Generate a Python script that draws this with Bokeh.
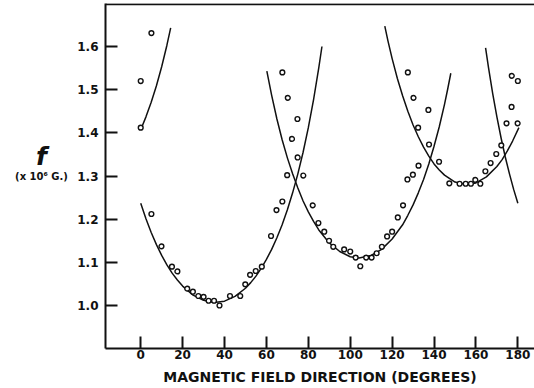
from bokeh.plotting import figure
from bokeh.layouts import row
from bokeh.models import Range1d, FixedTicker, Span, NumeralTickFormatter
from bokeh.core.properties import value
from bokeh.embed import file_html
from bokeh.resources import INLINE

# ---- data ----
obs_deg = [0.0, 0.0, 5.1, 67.6, 70.2, 74.8, 72.2, 74.9, 69.9,
           5.1, 9.9, 14.9, 17.5, 22.2, 24.9, 27.5, 30.0, 32.4, 35.0, 37.6,
           42.6, 47.5, 49.9, 52.2, 54.9, 57.8, 62.2, 64.8, 67.6,
           77.6, 82.1, 84.8, 87.6, 89.9, 91.9, 97.1, 100.0, 102.6, 104.8,
           107.6, 110.2, 112.6, 115.1, 117.6, 120.0, 122.7, 125.2,
           127.3, 129.9, 132.6, 127.5, 130.2, 132.4, 137.3, 137.6, 142.4,
           147.3, 152.2, 155.1, 157.6, 159.7, 162.1, 164.5, 167.0, 169.7,
           172.1, 174.6, 177.0, 177.1, 180.0, 179.9]
obs_f = [1.520, 1.412, 1.631, 1.540, 1.481, 1.432, 1.386, 1.343, 1.302,
         1.212, 1.137, 1.090, 1.079, 1.039, 1.032, 1.022, 1.020, 1.011, 1.011, 1.000,
         1.022, 1.022, 1.049, 1.071, 1.080, 1.090, 1.161, 1.221, 1.241,
         1.301, 1.232, 1.191, 1.171, 1.150, 1.136, 1.130, 1.125, 1.111, 1.091,
         1.111, 1.111, 1.121, 1.136, 1.160, 1.171, 1.204, 1.232,
         1.292, 1.303, 1.324, 1.540, 1.481, 1.412, 1.453, 1.373, 1.333,
         1.283, 1.282, 1.282, 1.282, 1.291, 1.282, 1.311, 1.330, 1.351,
         1.371, 1.422, 1.460, 1.532, 1.520, 1.422]

# fitted curves
curve1_deg = [0, 2.5, 5, 7.5, 10, 12.5, 14.3]
curve1_f = [1.407, 1.437, 1.471, 1.509, 1.553, 1.603, 1.643]

curve2_deg = [0, 2.5, 5, 7.5, 10, 12.5, 15, 17.5, 20, 25, 30, 35, 40, 45, 50, 52.5,
              55, 57.5, 60, 62.5, 65, 67.5, 70, 72.5, 75, 77.5, 80, 82.5, 85, 86.5]
curve2_f = [1.237, 1.201, 1.169, 1.141, 1.116, 1.094, 1.075, 1.059, 1.045, 1.024,
            1.012, 1.007, 1.010, 1.021, 1.040, 1.053, 1.068, 1.086, 1.107, 1.130,
            1.157, 1.187, 1.222, 1.261, 1.305, 1.355, 1.412, 1.477, 1.551, 1.600]

curve3_deg = [60.2, 62.5, 65, 67.5, 70, 72.5, 75, 77.5, 80, 82.5, 85, 90, 95, 100, 104.2,
              110, 115, 120, 125, 127.5, 130, 132.5, 135, 137.5, 140, 142.5, 145, 146.5, 148]
curve3_f = [1.543, 1.487, 1.432, 1.384, 1.342, 1.305, 1.272, 1.242, 1.217, 1.195,
            1.175, 1.145, 1.125, 1.113, 1.110, 1.116, 1.130, 1.154, 1.187, 1.209,
            1.233, 1.261, 1.292, 1.328, 1.369, 1.414, 1.466, 1.501, 1.538]

curve4_deg = [116.5, 118, 120, 122.5, 125, 127.5, 130, 132.5, 135, 137.5, 140, 142.5,
              145, 150, 155.5, 160, 165, 170, 172.5, 175, 177.5, 180.5]
curve4_f = [1.647, 1.613, 1.572, 1.526, 1.486, 1.450, 1.418, 1.391, 1.367, 1.346,
            1.328, 1.314, 1.302, 1.286, 1.280, 1.284, 1.298, 1.322, 1.338, 1.358,
            1.381, 1.412]

curve5_deg = [164.6, 166, 168, 170, 172, 174, 176, 178, 180]
curve5_f = [1.597, 1.551, 1.491, 1.437, 1.388, 1.344, 1.305, 1.269, 1.237]

x_ticks = [0, 20, 40, 60, 80, 100, 120, 140, 160, 180]
y_ticks = [1.0, 1.1, 1.2, 1.3, 1.4, 1.5, 1.6]

y_title = ["f", "(x 10\u2076 G.)"]

X0, X1 = -16.81, 187.95
Y0, Y1 = 0.9004, 1.6996
ink = "#111111"

# ---- left strip holding the y title ----
LW = 74
pl = figure(width=LW, height=388, output_backend="svg", toolbar_location=None,
            x_range=Range1d(0, LW), y_range=Range1d(388, 0),
            min_border_left=0, min_border_right=0, min_border_top=0, min_border_bottom=0)
pl.axis.visible = False
pl.grid.visible = False
pl.outline_line_color = None
pl.text(x=[41], y=[172], text=[y_title[0]], text_align="center", text_baseline="alphabetic",
        text_font=value("DejaVu Sans"), text_font_style="bold italic",
        text_font_size="25px", text_color=ink)
pl.text(x=[41], y=[194], text=[y_title[1]], text_align="center", text_baseline="alphabetic",
        text_font=value("DejaVu Sans"), text_font_style="bold",
        text_font_size="10px", text_color=ink)

# ---- main plot ----
p = figure(width=534 - LW, height=388, output_backend="svg", toolbar_location=None,
           x_range=Range1d(X0, X1), y_range=Range1d(Y0, Y1),
           min_border_left=104 - LW, min_border_right=0, min_border_top=3, min_border_bottom=40)
p.outline_line_color = None
p.grid.visible = False
p.background_fill_color = "white"
p.border_fill_color = "white"

for xs, ys in [(curve1_deg, curve1_f), (curve2_deg, curve2_f), (curve3_deg, curve3_f),
               (curve4_deg, curve4_f), (curve5_deg, curve5_f)]:
    p.line(xs, ys, line_color=ink, line_width=1.5, line_join="round")

p.scatter(obs_deg, obs_f, marker="circle", size=4.8, fill_color="white",
          line_color=ink, line_width=1.4)

p.xaxis.ticker = FixedTicker(ticks=x_ticks)
p.yaxis.ticker = FixedTicker(ticks=y_ticks)
p.yaxis.formatter = NumeralTickFormatter(format="0.0")
for ax in (p.xaxis, p.yaxis):
    ax.axis_line_width = 2
    ax.axis_line_color = ink
    ax.major_tick_line_width = 2
    ax.major_tick_line_color = ink
    ax.major_tick_in = 12
    ax.major_tick_out = 0
    ax.minor_tick_line_color = None
    ax.major_label_text_font = "DejaVu Sans"
    ax.major_label_text_font_style = "bold"
    ax.major_label_text_font_size = "12px"
    ax.major_label_text_color = ink
p.yaxis.major_label_standoff = 7
p.xaxis.major_label_standoff = 1
p.xaxis.axis_label = "MAGNETIC FIELD DIRECTION (DEGREES)"
p.xaxis.axis_label_text_font = "DejaVu Sans"
p.xaxis.axis_label_text_font_style = "bold"
p.xaxis.axis_label_text_font_size = "14px"
p.xaxis.axis_label_text_color = ink
p.xaxis.axis_label_standoff = 7

p.add_layout(Span(location=Y1 - 0.002, dimension="width", line_color=ink, line_width=2))

layout = row(pl, p)
open("out.html", "w").write(file_html(layout, INLINE))
